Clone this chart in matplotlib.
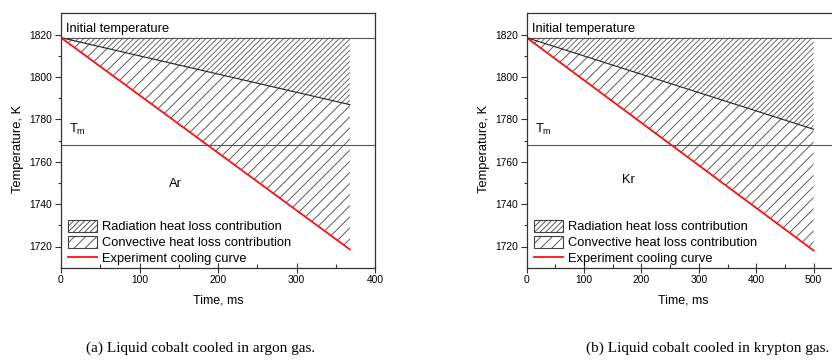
import matplotlib
matplotlib.use("Agg")
import matplotlib.pyplot as plt
from matplotlib.patches import Patch
from matplotlib.lines import Line2D

plt.rcParams['font.family'] = ['Liberation Sans', 'DejaVu Sans']
plt.rcParams['hatch.linewidth'] = 0.6

# Data (time in ms, temperature in K)
T_initial = 1818.5
T_melt = 1768.0

ar_time = [0, 368]
ar_radiation = [1818.5, 1786.9]
ar_experiment = [1818.5, 1718.6]

kr_time = [0, 500]
kr_radiation = [1818.5, 1775.3]
kr_experiment = [1818.5, 1718.1]

panels = [
    dict(time=ar_time, rad=ar_radiation, exp=ar_experiment, gas="Ar",
         gas_xy=(146, 1748.3), xlim=(0, 400), xticks=[0, 100, 200, 300, 400],
         caption="(a) Liquid cobalt cooled in argon gas."),
    dict(time=kr_time, rad=kr_radiation, exp=kr_experiment, gas="Kr",
         gas_xy=(176.7, 1749.9), xlim=(0, 549), xticks=[0, 100, 200, 300, 400, 500],
         caption="(b) Liquid cobalt cooled in krypton gas."),
]

W, H = 832, 363
fig = plt.figure(figsize=(W / 100, H / 100), dpi=100)

axes_px = [(61, 375), (526.7, 841.7)]
top_px, bot_px = 13.3, 267.7
caption_cx = [201, 708]

spine_col = '#333333'
for (x0, x1), p, cx in zip(axes_px, panels, caption_cx):
    ax = fig.add_axes([x0 / W, 1 - bot_px / H, (x1 - x0) / W, (bot_px - top_px) / H])
    t = p['time']
    init = [T_initial] * len(t)
    ax.fill_between(t, init, p['rad'], facecolor='none', edgecolor='#555555',
                    hatch='//////', linewidth=0)
    ax.fill_between(t, p['rad'], p['exp'], facecolor='none', edgecolor='#454545',
                    hatch='///', linewidth=0)
    ax.axhline(T_initial, color='#555555', lw=0.8)
    ax.axhline(T_melt, color='#555555', lw=0.8)
    ax.plot(t, p['rad'], color='#222222', lw=0.8)
    ax.plot(t, p['exp'], color='#ff1010', lw=1.3)

    ax.set_xticks(p['xticks'])
    ax.set_yticks([1720, 1740, 1760, 1780, 1800, 1820])
    ax.set_xticks([v + 50 for v in p['xticks']], minor=True)
    ax.set_yticks([1730, 1750, 1770, 1790, 1810], minor=True)
    ax.set_xlim(*p['xlim'])
    ax.set_ylim(1710, 1830)
    ax.tick_params(axis='x', which='major', direction='inout', length=7, width=0.8,
                   labelsize=7.4, pad=2, color=spine_col)
    ax.tick_params(axis='x', which='minor', direction='in', length=3, width=0.8,
                   color=spine_col)
    ax.tick_params(axis='y', which='major', direction='out', length=4.5, width=0.8,
                   labelsize=7.4, pad=2, color=spine_col)
    ax.tick_params(axis='y', which='minor', direction='out', length=2.5, width=0.8,
                   color=spine_col)
    for s in ax.spines.values():
        s.set_color(spine_col)
        s.set_linewidth(0.9)

    ax.set_xlabel("Time, ms", fontsize=9)
    ax.set_ylabel("Temperature, K", fontsize=9.3)
    ax.xaxis.set_label_coords((0.5 * (375 - 61)) / (x1 - x0), -0.105)
    ax.yaxis.set_label_coords(-0.117, 0.468)

    ax.text(0.017, 0.928, "Initial temperature", transform=ax.transAxes,
            fontsize=9.3, va='baseline', ha='left')
    ax.text(0.025, 0.528, r"$\mathregular{T_m}$", transform=ax.transAxes,
            fontsize=9.3, va='baseline', ha='left')
    ax.text(p['gas_xy'][0], p['gas_xy'][1], p['gas'], fontsize=9.3,
            ha='center', va='baseline')

    handles = [
        Patch(facecolor='white', edgecolor='#404040', hatch='//////', lw=0.8),
        Patch(facecolor='white', edgecolor='#404040', hatch='///', lw=0.8),
        Line2D([], [], color='#ff1010', lw=1.3),
    ]
    labels = ["Radiation heat loss contribution", "Convective heat loss contribution",
              "Experiment cooling curve"]
    ax.legend(handles, labels, loc='lower left', bbox_to_anchor=(7 / 314, 0.01),
              frameon=False, fontsize=9.3, borderpad=0, borderaxespad=0,
              handlelength=2.25, handleheight=1.05, handletextpad=0.4,
              labelspacing=0.2)

    fig.text(cx / W, 1 - 348 / H, p['caption'], ha='center', va='center',
             fontsize=11, family=['Liberation Serif', 'DejaVu Serif'])

fig.savefig("out.png", dpi=100)
